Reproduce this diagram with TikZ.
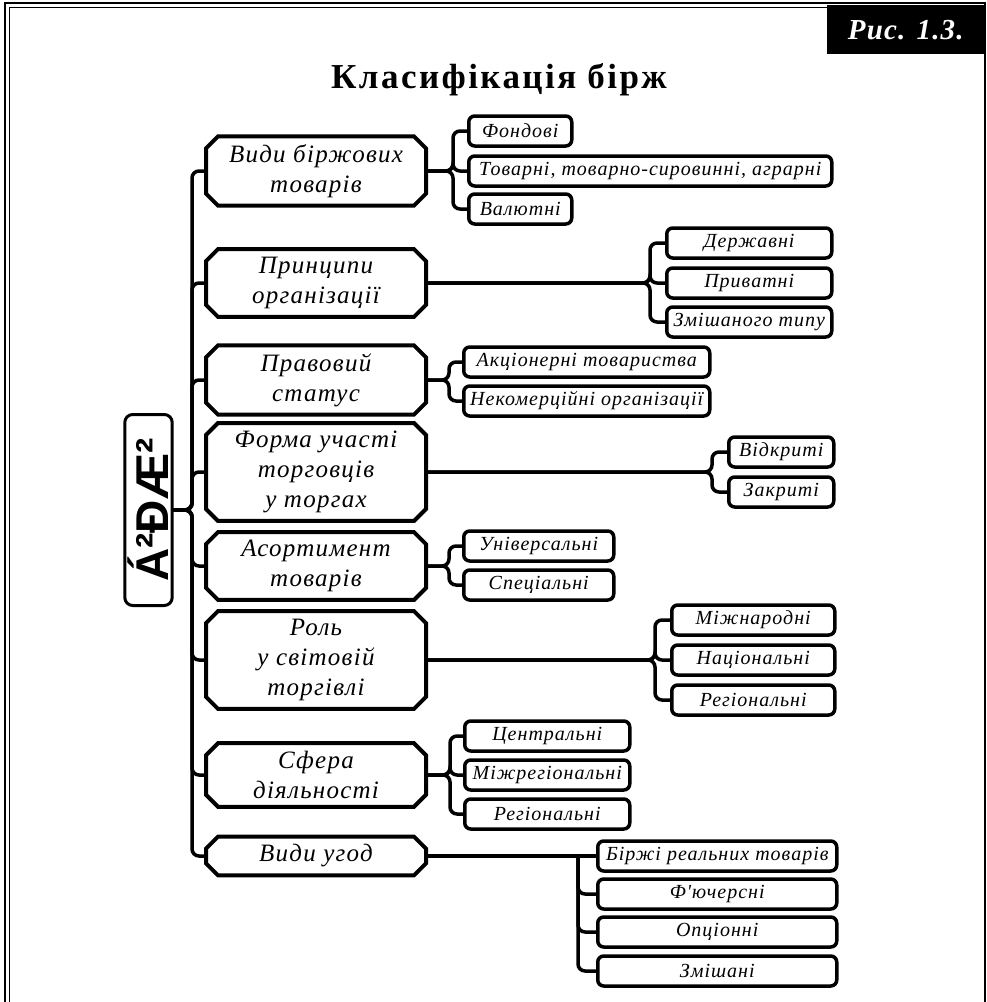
\documentclass[tikz,border=0pt]{standalone}
\usepackage{fontspec}
\setmainfont{Liberation Serif}
\newfontfamily\boxfont[LetterSpace=5]{Liberation Serif}
\newfontfamily\titlefont[LetterSpace=7]{Liberation Serif}
\newfontfamily\labelfont[LetterSpace=4]{Liberation Serif}
\newfontfamily\rootfont{Liberation Sans}
\usetikzlibrary{
    shapes.misc,
    positioning,
    calc
}
\tikzstyle{mainbox} = [
    chamfered rectangle,
    chamfered rectangle xsep=6pt,
    chamfered rectangle ysep=6pt,
    draw=black,
    fill=white,
    line width=4pt,
    minimum width=220,
    inner sep=2pt,
    align=center,
    font=\boxfont\itshape\fontsize{25}{30}\selectfont
]
\tikzstyle{leafbox} = [
    rectangle,
    rounded corners=6pt,
    draw=black,
    fill=white,
    line width=3.5pt,
    minimum height=30,
    inner sep=2pt,
    anchor=west,
    font=\boxfont\itshape\fontsize{20}{22}\selectfont
]
\tikzstyle{rootbox} = [
    rectangle,
    rounded corners=8pt,
    draw=black,
    line width=3pt,
    rotate=90,
    minimum width=191,
    minimum height=47,
    font=\rootfont\bfseries\fontsize{46}{46}\selectfont
]
\tikzstyle{link} = [
    line width=3.5pt,
    rounded corners=7pt,
    draw=black
]

\begin{document}
\begin{tikzpicture}[x=1pt, y=1pt]
        \useasboundingbox (0,0) rectangle (987,-1002);

        % Frame
        \draw[line width=1.6pt] (5,-1002) -- (5,-3) -- (985,-3) -- (985,-1002);
        \draw[line width=0.6pt] (9,-1002) -- (9,-7) -- (981,-7);
        \node[fill=black, text=white, minimum width=158, minimum height=49, anchor=north east,
            font=\labelfont\bfseries\itshape\fontsize{29}{30}\selectfont] (fig_label) at (985,-5) {Рис. 1.3.};
        \node[font=\titlefont\bfseries\fontsize{35}{38}\selectfont] (title) at (499,-80) {Класифікація бірж};

        % Root
        \node[rootbox] (root) at (148.5,-510) {Á²ÐÆ²};
        \coordinate (trunk) at (192,0);

        % Main branches
        \node[mainbox, minimum height=60] (main_goods) at (316,-171) {Види біржових\\товарів};
        \node[mainbox, minimum height=60] (main_org) at (316,-283) {Принципи\\організації};
        \node[mainbox, minimum height=60] (main_status) at (316,-380) {Правовий\\статус};
        \node[mainbox, minimum height=86] (main_form) at (316,-472) {Форма участі\\торговців\\у торгах};
        \node[mainbox, minimum height=58] (main_range) at (316,-566) {Асортимент\\товарів};
        \node[mainbox, minimum height=88] (main_role) at (316,-660) {Роль\\у світовій\\торгівлі};
        \node[mainbox, minimum height=60] (main_scope) at (316,-775) {Сфера\\діяльності};
        \node[mainbox, minimum height=30] (main_deals) at (316,-856) {Види угод};

        % Leaves
        \node[leafbox, minimum width=103] (leaf_stock) at (467,-131) {Фондові};
        \node[leafbox, minimum width=363] (leaf_commodity) at (467,-171) {Товарні, товарно-сировинні, аграрні};
        \node[leafbox, minimum width=103] (leaf_currency) at (467,-209) {Валютні};

        \node[leafbox, minimum width=165] (leaf_state) at (665,-243) {Державні};
        \node[leafbox, minimum width=165] (leaf_private) at (665,-283) {Приватні};
        \node[leafbox, minimum width=165] (leaf_mixedtype) at (665,-322) {Змішаного типу};

        \node[leafbox, minimum width=246] (leaf_jointstock) at (462,-362) {Акціонерні товариства};
        \node[leafbox, minimum width=246] (leaf_nonprofit) at (462,-401) {Некомерційні організації};

        \node[leafbox, minimum width=105] (leaf_open) at (727,-452) {Відкриті};
        \node[leafbox, minimum width=105] (leaf_closed) at (727,-492) {Закриті};

        \node[leafbox, minimum width=150] (leaf_universal) at (462,-546) {Універсальні};
        \node[leafbox, minimum width=150] (leaf_special) at (462,-585) {Спеціальні};

        \node[leafbox, minimum width=163] (leaf_intl) at (670,-620) {Міжнародні};
        \node[leafbox, minimum width=163] (leaf_national) at (670,-660) {Національні};
        \node[leafbox, minimum width=163] (leaf_regional) at (670,-700) {Регіональні};

        \node[leafbox, minimum width=165] (leaf_central) at (463,-736) {Центральні};
        \node[leafbox, minimum width=165] (leaf_interreg) at (463,-775) {Міжрегіональні};
        \node[leafbox, minimum width=165] (leaf_regional2) at (463,-814) {Регіональні};

        \node[leafbox, minimum width=239] (leaf_real) at (596,-856) {Біржі реальних товарів};
        \node[leafbox, minimum width=239] (leaf_futures) at (596,-894) {Ф'ючерсні};
        \node[leafbox, minimum width=239] (leaf_options) at (596,-932) {Опціонні};
        \node[leafbox, minimum width=239] (leaf_mixed) at (596,-971) {Змішані};

        % Forks
        \coordinate (fork_goods) at (453,0);
        \coordinate (fork_org) at (650,0);
        \coordinate (fork_status) at (449,0);
        \coordinate (fork_form) at (712,0);
        \coordinate (fork_range) at (449,0);
        \coordinate (fork_role) at (655,0);
        \coordinate (fork_scope) at (450,0);
        \coordinate (fork_deals) at (578,0);

        % Trunk
        \foreach \m in {main_goods, main_org, main_status, main_form, main_range, main_role, main_scope, main_deals}
            \draw[link] (root.south) -| (trunk |- \m.west) -- (\m.west);

        % Links to leaves
        \foreach \l in {leaf_stock, leaf_commodity, leaf_currency}
            \draw[link] (main_goods.east) -| (fork_goods |- \l.west) -- (\l.west);
        \foreach \l in {leaf_state, leaf_private, leaf_mixedtype}
            \draw[link] (main_org.east) -| (fork_org |- \l.west) -- (\l.west);
        \foreach \l in {leaf_jointstock, leaf_nonprofit}
            \draw[link] (main_status.east) -| (fork_status |- \l.west) -- (\l.west);
        \foreach \l in {leaf_open, leaf_closed}
            \draw[link] (main_form.east) -| (fork_form |- \l.west) -- (\l.west);
        \foreach \l in {leaf_universal, leaf_special}
            \draw[link] (main_range.east) -| (fork_range |- \l.west) -- (\l.west);
        \foreach \l in {leaf_intl, leaf_national, leaf_regional}
            \draw[link] (main_role.east) -| (fork_role |- \l.west) -- (\l.west);
        \foreach \l in {leaf_central, leaf_interreg, leaf_regional2}
            \draw[link] (main_scope.east) -| (fork_scope |- \l.west) -- (\l.west);
        \draw[link] (main_deals.east) -- (leaf_real.west);
        \foreach \l in {leaf_futures, leaf_options, leaf_mixed}
            \draw[link] (fork_deals |- main_deals.east) |- (\l.west);
    \end{tikzpicture}
\end{document}
